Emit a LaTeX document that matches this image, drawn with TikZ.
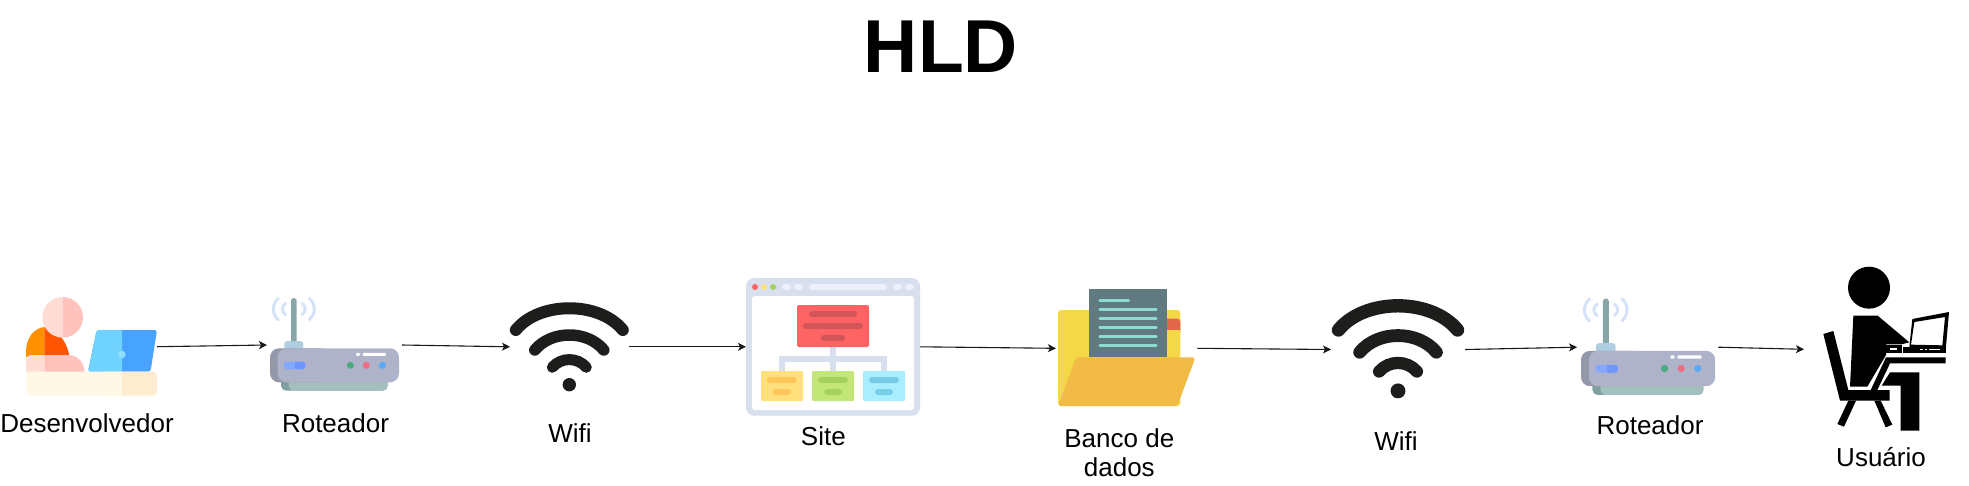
\documentclass[tikz,border=0pt]{standalone}
\usepackage{fontspec}
\setmainfont{Liberation Sans}
\usetikzlibrary{arrows.meta, positioning, calc}

\definecolor{wifidark}{HTML}{1D1D1B}
\definecolor{sitepale}{HTML}{D8DFEF}
\definecolor{sitebar}{HTML}{EEF1FA}
\definecolor{wavepale}{HTML}{D5E2F7}

\tikzset{
  iconbox/.style={inner sep=0pt, outer sep=0pt, draw=none},
  txtlabel/.style={font=\fontsize{26}{30}\selectfont, anchor=base, align=center},
  link/.style={-{Stealth[length=8pt,width=8pt,inset=2pt]}, line width=1.1pt, black!90},
}

% router, local origin at left end of body / top of antenna
\newcommand{\drawrouter}[3]{
\begin{scope}[shift={(#1,#2)}, scale=#3]
  % waves
  \foreach \cl/\cr/\r/\a in {3.3/44.3/14/50, 12.5/35.1/6.5/58}{
    \draw[line width=3pt, line cap=round, wavepale] ($(\cl+\r,11)+(180-\a:\r)$) arc (180-\a:180+\a:\r);
    \draw[line width=3pt, line cap=round, wavepale] ($(\cr-\r,11)+(-\a:\r)$) arc (-\a:\a:\r);
  }
  % antenna
  \fill[rounded corners=2.8pt, fill={rgb,255:red,136;green,165;blue,168}] (21,0) rectangle (26.7,46);
  \fill[rounded corners=3pt, fill={rgb,255:red,175;green,206;blue,226}] (14.3,43) rectangle (33.3,52);
  % foot
  \fill[rounded corners=5pt, fill={rgb,255:red,128;green,160;blue,160}] (11,75) rectangle (117.7,92.7);
  \fill[rounded corners=5pt, fill={rgb,255:red,163;green,191;blue,191}] (18.7,75) rectangle (117.7,92.7);
  % body
  \fill[rounded corners=9pt, fill={rgb,255:red,148;green,152;blue,168}] (0,50.3) rectangle (60,84.3);
  \fill[rounded corners=9pt, fill={rgb,255:red,175;green,179;blue,201}] (7.7,50.3) rectangle (129,84.3);
  % pill
  \fill[rounded corners=3.5pt, fill={rgb,255:red,132;green,168;blue,255}] (13.7,63.7) rectangle (35.7,71.3);
  \fill[rounded corners=3.5pt, fill={rgb,255:red,111;green,150;blue,255}] (25,63.7) rectangle (35.7,71.3);
  \fill[fill={rgb,255:red,111;green,150;blue,255}] (25,63.7) rectangle (30,71.3);
  % leds
  \fill[fill={rgb,255:red,77;green,169;blue,127}] (80.3,67.3) circle (3.5);
  \fill[fill={rgb,255:red,238;green,110;blue,134}] (96.3,67.3) circle (3.5);
  \fill[fill={rgb,255:red,92;green,168;blue,242}] (112.3,67.3) circle (3.5);
  \fill[white, rounded corners=1pt] (86,54.8) rectangle (90,57.8);
  \fill[white, rounded corners=1pt] (92.7,54.8) rectangle (116,57.8);
\end{scope}
}

% wifi, local origin level with the ends of the big arc
\newcommand{\drawwifi}[3]{
\begin{scope}[shift={(#1,#2)}, scale=#3]
  \draw[line width=#3*12pt, line cap=round, wifidark] (-53.5,0) .. controls (-30,-29) and (30,-29) .. (53.5,0);
  \draw[line width=#3*11.5pt, line cap=round, wifidark] (-34.5,20) .. controls (-18,0) and (18,0) .. (34.5,20);
  \draw[line width=#3*11pt, line cap=round, wifidark] (-17,37.3) .. controls (-8,27) and (8,27) .. (17,37.3);
  \fill[wifidark] (0,54.7) circle (6.7);
\end{scope}
}

\begin{document}
\begin{tikzpicture}[x=1pt, y=-1pt]
\useasboundingbox (0,0) rectangle (1969,485);

% Title
\node[font=\fontsize{75}{80}\selectfont\bfseries, anchor=base] (title) at (941,72) {HLD};

% Developer
\fill[color={rgb,255:red,255;green,145;blue,0}] (26,357) -- (26,352) .. controls (26,338) and (34,328) .. (44.3,327) -- (44.3,357) -- cycle;
\fill[color={rgb,255:red,255;green,85;blue,0}] (44.3,327) .. controls (56,328) and (67,340) .. (69.5,357) -- (44.3,357) -- cycle;
\fill[color={rgb,255:red,255;green,221;blue,212}] (62.7,337.6) arc (90:270:20.3) -- cycle;
\fill[color={rgb,255:red,255;green,194;blue,188}] (62.7,337.6) arc (90:-90:20.3) -- cycle;
\fill[color={rgb,255:red,255;green,221;blue,212}] (44.3,355) -- (31,355) .. controls (28,355) and (26,357) .. (26,360) -- (26,372) -- (44.3,372) -- cycle;
\fill[color={rgb,255:red,255;green,194;blue,188}] (44.3,355) -- (68,355) .. controls (78,355) and (84.5,363) .. (84.5,372) -- (44.3,372) -- cycle;
% laptop
\fill[color={rgb,255:red,72;green,162;blue,255}, rounded corners=2.5pt] (96.7,330) -- (157,330) -- (150.5,371.7) -- (88,371.7) -- cycle;
\begin{scope}
  \clip (80,325) rectangle (122,375);
  \fill[color={rgb,255:red,111;green,210;blue,255}, rounded corners=2.5pt] (96.7,330) -- (157,330) -- (150.5,371.7) -- (88,371.7) -- cycle;
\end{scope}
\fill[color={rgb,255:red,143;green,224;blue,255}] (122,354.5) circle (3.7);
% desk
\fill[color={rgb,255:red,255;green,235;blue,208}, rounded corners=4pt] (100,371.7) rectangle (157,395.7);
\begin{scope}
  \clip (20,365) rectangle (122,400);
  \fill[color={rgb,255:red,255;green,248;blue,230}, rounded corners=4pt] (26,371.7) rectangle (157,395.7);
\end{scope}

% Routers
\drawrouter{270}{298}{1}
\drawrouter{1581}{298.5}{1.04}

% Wifi
\drawwifi{569.3}{330}{1}
\drawwifi{1398}{330}{1.113}

% Site
\fill[sitepale, rounded corners=8pt] (746,278) rectangle (920,415.7);
\fill[white, rounded corners=3pt] (752,296) rectangle (914,410);
\fill[color={rgb,255:red,255;green,100;blue,100}] (755,287) circle (3);
\fill[color={rgb,255:red,255;green,224;blue,125}] (764,287) circle (3);
\fill[color={rgb,255:red,165;green,210;blue,95}] (773,287) circle (3);
\foreach \xa/\xb in {782/791, 794/803, 809/887, 893/902, 905/914}
  \fill[sitebar, rounded corners=3pt] (\xa,284) rectangle (\xb,290);
\fill[sitepale] (830,347) rectangle (836,371);
\fill[sitepale] (779,356) rectangle (887,362);
\fill[sitepale] (779,356) rectangle (785,371);
\fill[sitepale] (881,356) rectangle (887,371);
\fill[color={rgb,255:red,255;green,100;blue,100}, rounded corners=2pt] (797,305) rectangle (869,347);
\foreach \xa/\xb/\ya in {809/857/311, 803/863/323, 821/845/335}
  \fill[color={rgb,255:red,210;green,85;blue,90}, rounded corners=3pt] (\xa,\ya) rectangle (\xb,\ya+6);
\foreach \xa/\cbox/\cbar in {761/FFE07D/FFC75A, 812/C3E678/A5D25F, 863/A9EEFF/78CDE6}{
  \definecolor{cbox}{HTML}{\cbox}
  \definecolor{cbar}{HTML}{\cbar}
  \fill[cbox, rounded corners=1pt] (\xa,371) rectangle (\xa+42,401);
  \fill[cbar, rounded corners=3pt] (\xa+6,377) rectangle (\xa+36,383);
  \fill[cbar, rounded corners=3pt] (\xa+12,389) rectangle (\xa+30,395);
}

% Database folder
\fill[color={rgb,255:red,244;green,216;blue,69}, rounded corners=3pt] (1058,310) rectangle (1180.3,406);
\fill[color={rgb,255:red,226;green,102;blue,74}, rounded corners=3pt] (1150,318.7) rectangle (1180.3,335);
\fill[color={rgb,255:red,244;green,216;blue,69}] (1150,330) rectangle (1180.3,358);
\fill[color={rgb,255:red,96;green,122;blue,128}] (1089.3,289.3) rectangle (1167,357.3);
\foreach \ya in {309.3, 318.3, 327.3, 336.7, 345.7}
  \draw[line width=3.5pt, line cap=round, color={rgb,255:red,140;green,220;blue,210}] (1100,\ya) -- (1156,\ya);
\draw[line width=3.5pt, line cap=round, color={rgb,255:red,140;green,220;blue,210}] (1100,300.3) -- (1128.5,300.3);
\fill[color={rgb,255:red,242;green,187;blue,70}, rounded corners=3pt] (1076,357.3) -- (1195.5,357.3) -- (1177.3,406) -- (1058,406) -- cycle;

% User
\begin{scope}[shift={(1780,250)}, scale=1/3]
  \fill (267,113) circle (63);
  \fill (220,197) -- (293,197) -- (388,277) -- (365,283) -- (318,283) -- (313,260) -- (318,283) -- (318,315) -- (262,410) -- (210,410) -- cycle;
  \fill (318,285) rectangle (365,310);
  \fill[white] (330,294) rectangle (350,300);
  % laptop
  \fill[even odd rule] (397,207) -- (507,186) -- (497,300) -- (388,290) -- cycle (403,216) -- (495,201) -- (487,286) -- (393,284) -- cycle;
  \fill (368,290) rectangle (497,310);
  \fill[white] (420,297) rectangle (430,300);
  \fill[white] (434,297) rectangle (442,300);
  \fill[white] (447,297) rectangle (480,300);
  % table
  \fill (318,322) -- (497,322) -- (497,340) -- (330,340) -- (292,420) -- (272,420) -- cycle;
  % chair
  \fill (130,252) -- (160,243) -- (205,420) -- (329,420) -- (329,452) -- (180,452) -- cycle;
  \fill (205,452) -- (228,452) -- (192,530) -- (172,522) -- cycle;
  \fill (283,452) -- (302,452) -- (337,524) -- (317,532) -- cycle;
  % leg
  \fill (330,367) -- (418,367) -- (418,542) -- (362,542) -- (362,407) -- (305,407) -- cycle;
\end{scope}

% Anchors for the connectors
\node[iconbox, minimum width=131pt, minimum height=99pt] (dev) at (91.5,346.7) {};
\node[iconbox, minimum width=135pt, minimum height=93pt] (router1) at (334.5,345) {};
\node[iconbox, minimum width=119pt, minimum height=90pt] (wifi1) at (569.5,346.8) {};
\node[iconbox, minimum width=174pt, minimum height=137pt] (site) at (833,346.8) {};
\node[iconbox, minimum width=141.3pt, minimum height=117pt] (banco) at (1126.6,348.3) {};
\node[iconbox, minimum width=134pt, minimum height=101pt] (wifi2) at (1398,349.5) {};
\node[iconbox, minimum width=141.3pt, minimum height=97pt] (router2) at (1647.7,347.2) {};
\node[iconbox, minimum width=160pt, minimum height=180pt] (user) at (1884,349.3) {};

\draw[link] (dev.east) -- (router1.west);
\draw[link] (router1.east) -- (wifi1.west);
\draw[link] (wifi1.east) -- (site.west);
\draw[link] (site.east) -- (banco.west);
\draw[link] (banco.east) -- (wifi2.west);
\draw[link] (wifi2.east) -- (router2.west);
\draw[link] (router2.east) -- (user.west);

% Labels
\node[txtlabel] (ldev) at (87,432.7) {Desenvolvedor};
\node[txtlabel] (lrouter1) at (335.5,432.7) {Roteador};
\node[txtlabel] (lwifi1) at (570,442.7) {Wifi};
\node[txtlabel] (lsite) at (823.3,445.7) {Site};
\node[txtlabel] (lbanco) at (1119.3,447.7) {Banco de};
\node[txtlabel] (lbanco2) at (1119.3,476.7) {dados};
\node[txtlabel] (lwifi2) at (1396,450) {Wifi};
\node[txtlabel] (lrouter2) at (1650,434.3) {Roteador};
\node[txtlabel] (luser) at (1881,466.7) {Usuário};

\end{tikzpicture}
\end{document}
